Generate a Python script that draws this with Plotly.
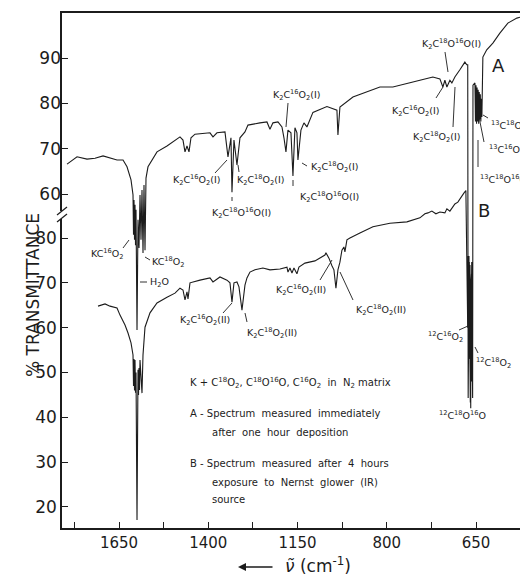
import plotly.graph_objects as go

# ---------------- data ----------------
# Spectrum A (upper trace, measured immediately after deposition)
a_wavenumber = [1795.6, 1781.6, 1767.6, 1739.6, 1717.2, 1694.8, 1675.2, 1655.6, 1638.8, 1627.6,
                1616.4, 1610.8, 1609.4, 1608.0, 1606.6, 1605.2, 1603.8, 1602.4, 1599.6, 1596.8,
                1594.0, 1591.2, 1588.4, 1585.6, 1582.8, 1580.0, 1577.2, 1574.4, 1568.8, 1557.6,
                1543.6, 1515.6, 1479.2, 1470.8, 1465.2, 1459.6, 1454.0, 1448.4, 1437.2, 1395.2,
                1386.8, 1375.6, 1353.2, 1344.8, 1336.4, 1333.6, 1328.0, 1319.6, 1311.2, 1297.2,
                1288.8, 1255.2, 1235.6, 1227.2, 1218.8, 1204.8, 1193.6, 1188.0, 1182.4, 1176.8,
                1168.4, 1162.8, 1157.2, 1151.6, 1148.8, 1140.4, 1132.0, 1123.6, 1106.8, 1067.6,
                1039.6, 1036.8, 1031.2, 994.8, 955.6, 919.2, 882.8, 843.6, 807.2, 770.8,
                751.2, 742.8, 737.2, 731.6, 723.2, 717.6, 709.2, 695.2, 681.2, 676.0,
                673.2, 672.0, 669.0, 666.0, 662.0, 659.5, 658.5, 653.0, 651.5, 650.0,
                648.5, 647.0, 645.5, 644.0, 642.5, 641.0, 639.5, 638.0, 636.5, 635.0,
                633.6, 630.8, 620.0, 602.8, 583.2, 560.8, 535.6, 526.0]
a_transmittance = [66.6, 67.5, 68.2, 67.7, 67.9, 68.4, 67.9, 67.5, 67.5, 66.0,
                   63.1, 59.8, 51.0, 58.7, 49.9, 57.6, 48.7, 56.5, 30.0, 54.3,
                   48.1, 59.8, 49.9, 60.9, 47.0, 62.0, 47.6, 63.5, 66.0, 67.5,
                   69.3, 70.6, 72.6, 71.9, 69.3, 70.6, 69.3, 72.4, 73.2, 73.5,
                   72.6, 73.5, 73.7, 68.2, 72.4, 60.4, 71.9, 66.4, 72.4, 73.7,
                   75.2, 75.7, 75.9, 74.3, 75.7, 75.9, 74.8, 72.4, 69.3, 74.1,
                   73.5, 64.0, 74.6, 73.5, 67.5, 74.1, 75.7, 74.8, 78.0, 79.3,
                   78.5, 73.0, 79.2, 81.4, 82.5, 83.6, 83.6, 84.3, 85.1, 85.8,
                   85.4, 83.6, 85.1, 83.6, 85.1, 84.5, 85.8, 87.4, 89.1, 88.5,
                   88.5, 15.0, 45.0, 14.0, 45.0, 15.0, 84.0, 84.5, 76.0, 84.0,
                   75.5, 83.5, 76.0, 83.0, 75.5, 82.5, 76.5, 82.0, 76.0, 81.0,
                   77.0, 90.2, 91.8, 93.3, 95.5, 97.7, 98.8, 99.0]

# Spectrum B (lower trace, after 4 h exposure to Nernst glower)
b_wavenumber = [1708.8, 1689.2, 1675.2, 1655.6, 1647.2, 1633.2, 1624.8, 1616.4, 1610.8, 1609.4,
                1608.0, 1606.6, 1605.2, 1603.8, 1602.4, 1599.6, 1596.8, 1595.4, 1594.0, 1592.6,
                1591.2, 1588.4, 1585.6, 1582.8, 1580.0, 1577.2, 1563.2, 1543.6, 1515.6, 1493.2,
                1479.2, 1470.8, 1465.2, 1459.6, 1456.8, 1451.2, 1423.2, 1395.2, 1386.8, 1367.2,
                1347.6, 1339.2, 1333.6, 1328.0, 1319.6, 1314.0, 1305.6, 1297.2, 1291.6, 1283.2,
                1269.2, 1246.8, 1227.2, 1199.2, 1179.6, 1176.8, 1171.2, 1165.6, 1160.0, 1151.6,
                1146.0, 1129.2, 1101.2, 1087.2, 1073.2, 1070.4, 1062.0, 1053.6, 1048.0, 1042.4,
                1036.8, 1031.2, 1025.6, 1020.0, 1017.2, 1011.6, 1003.2, 975.2, 938.8, 891.2,
                843.6, 807.2, 793.2, 784.8, 773.6, 762.4, 751.2, 737.2, 731.6, 723.2,
                714.8, 709.2, 700.8, 692.4, 684.0, 678.4, 673.2, 672.5, 671.8, 671.1,
                670.4, 669.7, 669.0, 668.3, 667.6, 666.9, 666.2, 665.5, 664.8, 664.1,
                663.4, 662.7, 662.0, 661.3, 660.6]
b_transmittance = [64.8, 65.3, 64.8, 64.4, 62.8, 60.6, 58.8, 56.6, 53.9, 47.0,
                   53.0, 46.0, 52.8, 45.5, 50.0, 17.1, 50.6, 45.0, 51.0, 46.1,
                   52.8, 48.3, 45.4, 53.9, 57.2, 60.1, 63.3, 65.5, 66.8, 67.7,
                   68.8, 68.4, 66.2, 68.0, 66.4, 70.0, 70.6, 71.1, 70.2, 71.3,
                   70.6, 70.0, 65.7, 70.0, 70.2, 69.1, 63.9, 69.5, 71.1, 72.4,
                   72.9, 73.3, 72.9, 73.1, 73.5, 72.4, 73.3, 72.2, 73.3, 72.0,
                   73.5, 74.4, 74.9, 75.5, 76.2, 76.7, 75.5, 73.8, 72.9, 68.8,
                   72.9, 74.6, 77.3, 78.0, 76.9, 79.6, 80.0, 81.1, 82.5, 83.3,
                   83.6, 84.5, 85.4, 85.6, 86.0, 85.4, 85.8, 85.6, 86.5, 86.0,
                   86.9, 87.6, 88.0, 89.1, 90.0, 90.6, 60.0, 76.0, 55.0, 75.0,
                   54.0, 76.0, 53.0, 75.0, 55.0, 74.0, 56.0, 73.0, 42.0, 70.0,
                   52.0, 72.0, 48.0, 65.0, 58.0]

x_tick_values = [1775, 1650, 1525, 1400, 1275, 1150, 1025, 900, 775, 650, 525]
x_tick_labels = ["", "1650", "", "1400", "", "1150", "", "800", "", "650", ""]
a_tick_values = [60, 70, 80, 90]
b_tick_values = [20, 30, 40, 50, 60, 70, 80]

# ---------------- layout helpers ----------------
W, H = 520, 574
L, R, T, B = 62, 0, 13, 46
PW, PH = W - L - R, H - T - B


def px(x):
    return (x - L) / PW


def py(y):
    return (H - B - y) / PH


INK = "#1c1c1c"
FONT = "DejaVu Sans"

fig = go.Figure()
fig.add_trace(go.Scatter(x=b_wavenumber, y=b_transmittance, mode="lines",
                         line=dict(color=INK, width=1.1), yaxis="y", showlegend=False,
                         hoverinfo="skip"))
fig.add_trace(go.Scatter(x=a_wavenumber, y=a_transmittance, mode="lines",
                         line=dict(color=INK, width=1.1), yaxis="y2", showlegend=False,
                         hoverinfo="skip"))

# band labels: (text, centre-x px, centre-y px, anchor)
K2 = "K<sub>2</sub>C"
labels = [
    (K2 + "<sup>18</sup>O<sup>16</sup>O(I)", 451, 44, "center"),
    (K2 + "<sup>16</sup>O<sub>2</sub>(I)", 416, 111, "center"),
    (K2 + "<sup>18</sup>O<sub>2</sub>(I)", 437, 137, "center"),
    ("<sup>13</sup>C<sup>18</sup>O<sub>2</sub>", 489, 126, "left"),
    ("<sup>13</sup>C<sup>16</sup>O<sub>2</sub>", 487, 150, "left"),
    ("<sup>13</sup>C<sup>18</sup>O<sup>16</sup>O", 478, 179, "left"),
    (K2 + "<sup>16</sup>O<sub>2</sub>(I)", 297, 95, "center"),
    (K2 + "<sup>18</sup>O<sub>2</sub>(I)", 335, 167, "center"),
    (K2 + "<sup>18</sup>O<sup>16</sup>O(I)", 329, 197, "center"),
    (K2 + "<sup>16</sup>O<sub>2</sub>(I)", 197, 180, "center"),
    (K2 + "<sup>18</sup>O<sub>2</sub>(I)", 261, 180, "center"),
    (K2 + "<sup>18</sup>O<sup>16</sup>O(I)", 241, 213, "center"),
    ("KC<sup>16</sup>O<sub>2</sub>", 107, 254, "center"),
    ("KC<sup>18</sup>O<sub>2</sub>", 168, 262, "center"),
    ("H<sub>2</sub>O", 148, 282, "left"),
    (K2 + "<sup>16</sup>O<sub>2</sub>(II)", 205, 320, "center"),
    (K2 + "<sup>18</sup>O<sub>2</sub>(II)", 272, 333, "center"),
    (K2 + "<sup>16</sup>O<sub>2</sub>(II)", 301, 290, "center"),
    (K2 + "<sup>18</sup>O<sub>2</sub>(II)", 381, 310, "center"),
    ("<sup>12</sup>C<sup>16</sup>O<sub>2</sub>", 445, 337, "center"),
    ("<sup>12</sup>C<sup>18</sup>O<sub>2</sub>", 493, 363, "center"),
    ("<sup>12</sup>C<sup>18</sup>O<sup>16</sup>O", 462, 415, "center"),
]
leaders = [
    (445, 52, 448, 72), (436, 98, 443, 87), (453, 127, 455, 87),
    (483, 115, 488, 118), (479, 117, 484, 142), (478, 140, 478, 167),
    (288, 103, 286, 127), (302, 163, 307, 166), (293, 180, 293, 186),
    (215, 173, 227, 160), (238, 165, 239, 172), (232, 197, 232, 201),
    (123, 248, 129, 240), (145, 257, 150, 260), (140, 282, 147, 282),
    (223, 313, 232, 303), (245, 313, 247, 322), (320, 280, 332, 260),
    (353, 300, 340, 272), (459, 330, 468, 326), (475, 347, 478, 353),
]
notes = [
    ("K + C<sup>18</sup>O<sub>2</sub>, C<sup>18</sup>O<sup>16</sup>O, C<sup>16</sup>O<sub>2</sub>  in  N<sub>2</sub> matrix", 188, 383),
    ("A - Spectrum  measured  immediately", 188, 413),
    ("after  one  hour  deposition", 210, 432),
    ("B - Spectrum  measured  after  4  hours", 188, 463),
    ("exposure  to  Nernst  glower  (IR)", 210, 482),
    ("source", 210, 499),
]

annotations = []
for text, cx, cy, anc in labels:
    annotations.append(dict(text=text, x=px(cx), y=py(cy), xref="paper", yref="paper",
                            xanchor=anc, yanchor="middle", showarrow=False,
                            font=dict(family=FONT, size=9.5, color=INK)))
for text, lx, ly in notes:
    annotations.append(dict(text=text, x=px(lx), y=py(ly), xref="paper", yref="paper",
                            xanchor="left", yanchor="middle", showarrow=False,
                            font=dict(family=FONT, size=10, color=INK)))
annotations += [
    dict(text="A", x=px(507), y=py(53), xref="paper", yref="paper", showarrow=False,
         font=dict(family=FONT, size=18, color=INK)),
    dict(text="B", x=px(492), y=py(210), xref="paper", yref="paper", showarrow=False,
         font=dict(family=FONT, size=18, color=INK)),
    dict(text="% TRANSMITTANCE", x=px(21), y=py(295), xref="paper", yref="paper",
         textangle=-90, showarrow=False, font=dict(family=FONT, size=17, color=INK)),
    dict(text="<i>ν\u0303</i> (cm<sup>-1</sup>)", x=px(283), y=py(565), xref="paper",
         yref="paper", xanchor="left", yanchor="middle", showarrow=False,
         font=dict(family=FONT, size=17, color=INK)),
    dict(text="", x=px(238), y=py(567), xref="paper", yref="paper", showarrow=True,
         ax=36, ay=0, arrowhead=2, arrowsize=1, arrowwidth=1.6, arrowcolor=INK),
]

shapes = [dict(type="line", xref="paper", yref="paper", x0=px(x0), y0=py(y0),
               x1=px(x1), y1=py(y1), line=dict(color=INK, width=0.9))
          for x0, y0, x1, y1 in leaders]
# axis break marks
shapes += [
    dict(type="rect", xref="paper", yref="paper", x0=px(59), x1=px(65), y0=py(219),
         y1=py(211), line=dict(width=0), fillcolor="white"),
    dict(type="line", xref="paper", yref="paper", x0=px(57), y0=py(215), x1=px(67),
         y1=py(207), line=dict(color=INK, width=1.2)),
    dict(type="line", xref="paper", yref="paper", x0=px(57), y0=py(222), x1=px(67),
         y1=py(214), line=dict(color=INK, width=1.2)),
]

fig.update_layout(
    template="none",
    width=W, height=H,
    margin=dict(l=L, r=R, t=T, b=B, pad=0, autoexpand=False),
    paper_bgcolor="white", plot_bgcolor="white",
    font=dict(family=FONT, color=INK),
    xaxis=dict(range=[1809.7, 526.8], tickvals=x_tick_values, ticktext=x_tick_labels,
               ticks="inside", ticklen=6, tickcolor=INK, showline=True, linecolor=INK,
               linewidth=1.5, mirror=True, showgrid=False, zeroline=False, automargin=False,
               tickfont=dict(family=FONT, size=15, color=INK)),
    yaxis=dict(range=[15.31, 130.19], tickvals=b_tick_values, ticks="inside", ticklen=6,
               tickcolor=INK, showline=True, linecolor=INK, linewidth=1.5,
               showgrid=False, zeroline=False, automargin=False,
               tickfont=dict(family=FONT, size=17, color=INK)),
    yaxis2=dict(range=[-13.68, 99.93], tickvals=a_tick_values, overlaying="y", side="left",
                ticks="inside", ticklen=6, tickcolor=INK, showline=False,
                showgrid=False, zeroline=False, automargin=False,
                tickfont=dict(family=FONT, size=17, color=INK)),
    annotations=annotations,
    shapes=shapes,
    showlegend=False,
)

fig.write_html("out.html", config={"displayModeBar": False},
               post_script="document.body.style.margin='0';document.body.style.padding='0';")
